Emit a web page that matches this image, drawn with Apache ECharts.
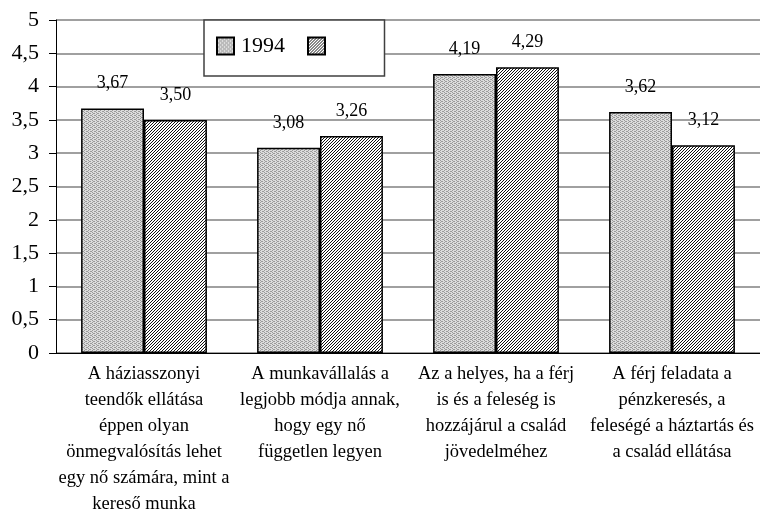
<!DOCTYPE html>
<html>
<head>
<meta charset="utf-8">
<script src="https://cdn.jsdelivr.net/npm/echarts@6/dist/echarts.min.js"></script>
<style>html,body{margin:0;padding:0;background:#fff;}#c{width:760px;height:524px;}</style>
</head>
<body>
<div id="c"></div>
<script>
const categories = [
  "A háziasszonyi\nteendők ellátása\néppen olyan\nönmegvalósítás lehet\negy nő számára, mint a\nkereső munka",
  "A munkavállalás a\nlegjobb módja annak,\nhogy egy nő\nfüggetlen legyen",
  "Az a helyes, ha a férj\nis és a feleség is\nhozzájárul a család\njövedelméhez",
  "A férj feladata a\npénzkeresés, a\nfeleségé a háztartás és\na család ellátása"
];
const seriesNames = ["1994", " "];
const values1994 = [3.67, 3.08, 4.19, 3.62];
const valuesOther = [3.50, 3.26, 4.29, 3.12];
const yTicks = [0, 0.5, 1, 1.5, 2, 2.5, 3, 3.5, 4, 4.5, 5];

function makeDots() {
  const c = document.createElement('canvas');
  c.width = 4; c.height = 4;
  const g = c.getContext('2d');
  g.fillStyle = '#dcdcdc'; g.fillRect(0, 0, 4, 4);
  g.fillStyle = '#9a9a9a';
  [[0,0],[2,1],[0,2],[2,3],[1,1],[3,3]].forEach(p => g.fillRect(p[0], p[1], 1, 1));
  return c;
}
function makeHatch() {
  const c = document.createElement('canvas');
  c.width = 3; c.height = 3;
  const g = c.getContext('2d');
  g.fillStyle = '#ffffff'; g.fillRect(0, 0, 3, 3);
  g.fillStyle = '#111111';
  for (let i = 0; i < 3; i++) g.fillRect(i, 2 - i, 1, 1);
  return c;
}
const pat1 = { image: makeDots(), repeat: 'repeat' };
const pat2 = { image: makeHatch(), repeat: 'repeat' };
const font = 'Liberation Serif';
const fmt = v => v.toFixed(2).replace('.', ',');

const chart = echarts.init(document.getElementById('c'));
chart.setOption({
  animation: false,
  backgroundColor: '#fff',
  textStyle: { fontFamily: font },
  grid: { left: 56, top: 20, right: -4, bottom: 171, containLabel: false },
  legend: {
    left: 204, top: 20,
    padding: [15, 47, 19, 12],
    icon: 'rect',
    itemWidth: 17, itemHeight: 17, itemGap: 22,
    borderColor: '#404040', borderWidth: 1.5,
    backgroundColor: '#fff',
    textStyle: { fontFamily: font, fontSize: 22, color: '#000', padding: [0, 0, 0, 2] },
    data: seriesNames
  },
  xAxis: {
    type: 'category',
    data: categories,
    axisLine: { lineStyle: { color: '#000', width: 1 } },
    axisTick: { length: 7, lineStyle: { color: '#000' } },
    axisLabel: { fontFamily: font, fontSize: 18.5, color: '#000', lineHeight: 26, margin: 8, interval: 0 }
  },
  yAxis: {
    type: 'value', min: 0, max: 5, interval: 0.5,
    axisLine: { show: true, lineStyle: { color: '#000', width: 1 } },
    axisTick: { show: true, length: 7, lineStyle: { color: '#000' } },
    splitLine: { lineStyle: { color: '#808080', width: 1.5 } },
    axisLabel: {
      fontFamily: font, fontSize: 22, color: '#000', margin: 17,
      formatter: v => yTicks.includes(v) ? String(v).replace('.', ',') : ''
    }
  },
  series: [
    {
      name: seriesNames[0], type: 'bar', data: values1994,
      barGap: '0%', barCategoryGap: '28.5%',
      itemStyle: { color: pat1, borderColor: '#000', borderWidth: 1.5 },
      label: { show: true, position: 'top', distance: 16, formatter: p => fmt(p.value), fontFamily: font, fontSize: 18, color: '#000' }
    },
    {
      name: seriesNames[1], type: 'bar', data: valuesOther,
      barGap: '0%', barCategoryGap: '28.5%',
      itemStyle: { color: pat2, borderColor: '#000', borderWidth: 1.5 },
      label: { show: true, position: 'top', distance: 16, formatter: p => fmt(p.value), fontFamily: font, fontSize: 18, color: '#000' }
    }
  ]
});
</script>
</body>
</html>
